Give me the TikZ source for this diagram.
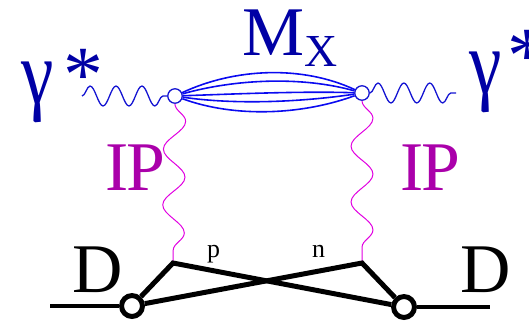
\documentclass[tikz,border=0pt]{standalone}
\usepackage{fontspec}
\setmainfont{Liberation Serif}
\usepackage{tikz}
\usetikzlibrary{decorations.pathmorphing, positioning, calc}
\definecolor{photonblue}{RGB}{20, 20, 210}
\definecolor{bundleblue}{RGB}{10, 10, 240}
\definecolor{labelblue}{RGB}{0, 0, 165}
\definecolor{pomeronpink}{RGB}{225, 0, 225}
\definecolor{pomerontext}{RGB}{170, 0, 170}

\newcommand{\bigstar}[1]{\raisebox{#1}{\fontsize{80}{80}\selectfont *}}
\newcommand{\tallgamma}{\scalebox{1.05}[1.3]{γ}}

\tikzset{
    photon/.style={decorate, decoration={snake, segment length=26, amplitude=10}, color=photonblue, line width=1.3pt},
    pomeron/.style={decorate, decoration={snake, segment length=56, amplitude=11}, color=pomeronpink, line width=1pt},
    bundle/.style={color=bundleblue, line width=1.6pt},
    hadron/.style={line width=5pt, black},
    topvertex/.style={circle, draw=photonblue, fill=white, line width=1.3pt, minimum size=14.5, inner sep=0pt},
    lowvertex/.style={circle, draw=black, fill=white, line width=5pt, minimum size=21, inner sep=0pt},
    biglabel/.style={inner sep=0pt, anchor=base west, font=\fontsize{70}{70}\selectfont},
    smalllabel/.style={inner sep=0pt, anchor=base west, font=\fontsize{26}{26}\selectfont}
}

\begin{document}
\begin{tikzpicture}[x=1bp, y=1bp]
    \useasboundingbox (0,0) rectangle (529,323);

    \node[topvertex] (vL) at (175,227) {};
    \node[topvertex] (vR) at (362,230) {};
    \coordinate (gL) at (82,227);
    \coordinate (gR) at (456,230);

    \coordinate (pv) at (173,60);
    \coordinate (nv) at (362,60);
    \node[lowvertex] (cL) at (132,17) {};
    \node[lowvertex] (cR) at (404,16) {};
    \coordinate (dL) at (50,17);
    \coordinate (dR) at (490,16);

    % photons and the M_X bundle
    \draw[photon] (gL) -- (vL);
    \draw[photon] (vR) -- (gR);
    \foreach \h in {28,17,2,-9,-22}
        \draw[bundle] (vL) .. controls +(60,\h) and +(-60,\h) .. (vR);

    % pomerons
    \draw[pomeron] (vL) -- (pv);
    \draw[pomeron] (vR) -- (nv);

    % deuteron
    \draw[hadron] (dL) -- (cL);
    \draw[hadron] (cL) -- (pv) -- (cR);
    \draw[hadron] (cL) -- (nv) -- (cR);
    \draw[hadron] (cR) -- (dR);

    \node[biglabel, text=labelblue] (gammaL) at (21,220) {\tallgamma\kern10bp\bigstar{2bp}};
    \node[biglabel, text=labelblue] (gammaR) at (469,230) {\tallgamma\kern6bp\bigstar{11bp}};
    \node[biglabel, text=labelblue] (mx) at (242,268) {M\raisebox{-11bp}{\fontsize{46}{46}\selectfont X}};
    \node[biglabel, text=pomerontext] (ipL) at (105,133) {I\kern-2bp P};
    \node[biglabel, text=pomerontext] (ipR) at (400,133) {I\kern-2bp P};
    \node[biglabel] (dLabelL) at (72,31) {D};
    \node[biglabel] (dLabelR) at (460,31) {D};
    \node[smalllabel] (pLabel) at (207,66) {p};
    \node[smalllabel] (nLabel) at (312,66) {n};
\end{tikzpicture}
\end{document}
